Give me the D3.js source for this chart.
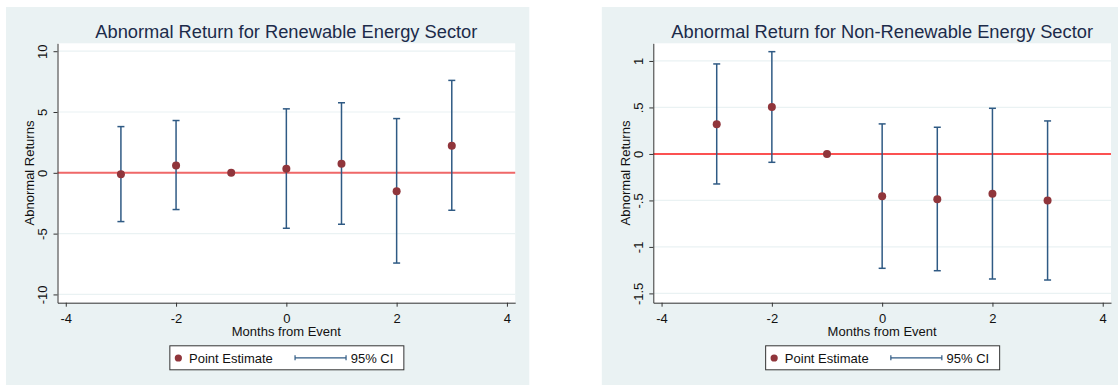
<!DOCTYPE html>
<html>
<head>
<meta charset="utf-8">
<title>Abnormal Returns</title>
<style>
  body { margin: 0; background: #fff; }
  svg { display: block; font-family: "Liberation Sans", Arial, sans-serif; }
</style>
</head>
<body>
<div id="chart"></div>
<script src="https://d3js.org/d3.v7.min.js"></script>
<script>
// event months
const months = [-3, -2, -1, 0, 1, 2, 3];

// renewable sector: point estimates and 95% CI bounds (null = no CI, reference month)
const renewEst = [-0.11, 0.61, 0, 0.33, 0.74, -1.51, 2.23];
const renewLo  = [-4.01, -3.02, null, -4.56, -4.23, -7.42, -3.08];
const renewHi  = [3.80, 4.30, null, 5.26, 5.76, 4.46, 7.60];

// non-renewable sector
const nonRenewEst = [0.319, 0.505, 0, -0.454, -0.486, -0.429, -0.500];
const nonRenewLo  = [-0.323, -0.090, null, -1.230, -1.256, -1.345, -1.356];
const nonRenewHi  = [0.968, 1.100, null, 0.323, 0.287, 0.491, 0.355];

// ticks
const xTicks = [-4, -2, 0, 2, 4];
const renewTicks = [-10, -5, 0, 5, 10];
const nonRenewTicks = [-1.5, -1, -0.5, 0, 0.5, 1];

const W = 1118, H = 385;
const bgColor = '#eaf2f3';
const ciColor = '#2f5a84';
const ptColor = '#90353b';

const svg = d3.select('#chart').append('svg').attr('width', W).attr('height', H);

// stata style numbers: .5, -.5, -1.5 (plain hyphen, not unicode minus)
const fmt = d => String(d).replace(/^(-?)0\./, '$1.');

function drawPanel(p) {
  const g = svg.append('g');
  g.append('rect').attr('x', p.x0).attr('y', 7).attr('width', 523.3).attr('height', H - 7).attr('fill', bgColor);

  const left = p.x0 + 51.5, right = left + 457.7, top = 43.3, bottom = 302.7;
  g.append('rect').attr('x', left).attr('y', top).attr('width', right - left).attr('height', bottom - top).attr('fill', '#fff');

  const x = d3.scaleLinear().domain([-4.15, 4.15]).range([left, right]);
  const y = d3.scaleLinear().domain(p.yDomain).range([bottom, top]);

  // grid
  g.selectAll('.grid').data(p.yTicks).enter().append('line')
    .attr('x1', left).attr('x2', right)
    .attr('y1', d => y(d)).attr('y2', d => y(d))
    .attr('stroke', bgColor).attr('stroke-width', 1.2);

  // zero line
  g.append('line').attr('x1', left).attr('x2', right).attr('y1', y(0)).attr('y2', y(0))
    .attr('stroke', p.zeroColor).attr('stroke-width', p.zeroWidth);

  // axes
  const xAxis = g.append('g').attr('transform', 'translate(0,' + bottom + ')')
    .call(d3.axisBottom(x).tickValues(xTicks).tickSize(4).tickSizeOuter(0).tickPadding(7).tickFormat(fmt));
  const yAxis = g.append('g').attr('transform', 'translate(' + left + ',0)')
    .call(d3.axisLeft(y).tickValues(p.yTicks).tickSize(4).tickSizeOuter(0).tickFormat(fmt));
  [xAxis, yAxis].forEach(a => {
    a.select('.domain').attr('stroke', '#333');
    a.selectAll('.tick line').attr('stroke', '#333');
    a.selectAll('text').attr('fill', '#111').style('font-size', '13px').style('font-family', '"Liberation Sans", Arial, sans-serif');
  });
  yAxis.selectAll('text').attr('transform', 'rotate(-90)').attr('x', 0).attr('y', -10.5).attr('dy', null).attr('text-anchor', 'middle');

  // axis titles
  g.append('text').attr('x', (left + right) / 2).attr('y', bottom + 33.5).attr('text-anchor', 'middle')
    .style('font-size', '13px').attr('fill', '#111').text('Months from Event');
  g.append('text').attr('transform', 'translate(' + (left - 23.3) + ',' + ((top + bottom) / 2) + ') rotate(-90)')
    .attr('text-anchor', 'middle').style('font-size', '13px').attr('fill', '#111').text('Abnormal Returns');

  // title
  g.append('text').attr('x', (left + right) / 2).attr('y', 37.5).attr('text-anchor', 'middle')
    .style('font-size', '18.3px').attr('fill', '#1c2b4a').text(p.title);

  // CI bars
  const rows = months.map((m, i) => ({ m: m, est: p.est[i], lo: p.lo[i], hi: p.hi[i] }));
  const ci = g.selectAll('.ci').data(rows.filter(d => d.lo !== null)).enter().append('g');
  ci.append('line').attr('x1', d => x(d.m)).attr('x2', d => x(d.m)).attr('y1', d => y(d.lo)).attr('y2', d => y(d.hi))
    .attr('stroke', ciColor).attr('stroke-width', 1.5);
  ci.append('line').attr('x1', d => x(d.m) - 3.5).attr('x2', d => x(d.m) + 3.5).attr('y1', d => y(d.lo)).attr('y2', d => y(d.lo))
    .attr('stroke', ciColor).attr('stroke-width', 1.5);
  ci.append('line').attr('x1', d => x(d.m) - 3.5).attr('x2', d => x(d.m) + 3.5).attr('y1', d => y(d.hi)).attr('y2', d => y(d.hi))
    .attr('stroke', ciColor).attr('stroke-width', 1.5);

  // point estimates
  g.selectAll('.pt').data(rows).enter().append('circle')
    .attr('cx', d => x(d.m)).attr('cy', d => y(d.est)).attr('r', 4).attr('fill', ptColor);

  // legend
  const lx = (left + right) / 2 - 117, ly = 345.3;
  const lg = g.append('g').attr('transform', 'translate(' + lx + ',' + ly + ')');
  lg.append('rect').attr('x', 0.5).attr('y', 0.5).attr('width', 234).attr('height', 24).attr('fill', '#fff').attr('stroke', '#333').attr('stroke-width', 1);
  lg.append('circle').attr('cx', 9).attr('cy', 12.7).attr('r', 3.6).attr('fill', ptColor);
  lg.append('text').attr('x', 19.7).attr('y', 17.8).style('font-size', '13px').attr('fill', '#111').text('Point Estimate');
  lg.append('line').attr('x1', 125.7).attr('x2', 176.7).attr('y1', 12.5).attr('y2', 12.5).attr('stroke', ciColor).attr('stroke-width', 1.2);
  lg.append('line').attr('x1', 125.7).attr('x2', 125.7).attr('y1', 10).attr('y2', 15).attr('stroke', ciColor).attr('stroke-width', 1.2);
  lg.append('line').attr('x1', 176.7).attr('x2', 176.7).attr('y1', 10).attr('y2', 15).attr('stroke', ciColor).attr('stroke-width', 1.2);
  lg.append('text').attr('x', 181.4).attr('y', 17.8).style('font-size', '13px').attr('fill', '#111').text('95% CI');
}

drawPanel({
  x0: 6, title: 'Abnormal Return for Renewable Energy Sector',
  est: renewEst, lo: renewLo, hi: renewHi,
  yDomain: [-10.68, 10.65], yTicks: renewTicks,
  zeroColor: '#f06868', zeroWidth: 2
});
drawPanel({
  x0: 601.8, title: 'Abnormal Return for Non-Renewable Energy Sector',
  est: nonRenewEst, lo: nonRenewLo, hi: nonRenewHi,
  yDomain: [-1.6, 1.19], yTicks: nonRenewTicks,
  zeroColor: '#ff1a1a', zeroWidth: 1.4
});
</script>
</body>
</html>
